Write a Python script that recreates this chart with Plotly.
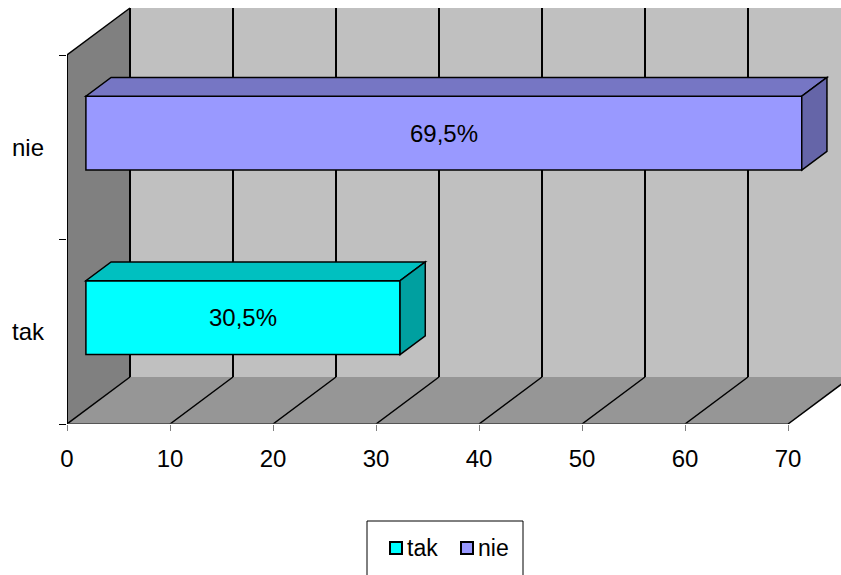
import plotly.graph_objects as go

# ---- data ----
categories = ["tak", "nie"]
values = [30.5, 69.5]
labels = ["30,5%", "69,5%"]
x_ticks = [0, 10, 20, 30, 40, 50, 60, 70]
x_max = 70

# ---- styles ----
front_colors = ["#00FFFF", "#9999FF"]
top_colors = ["#00C0C0", "#7676C4"]
side_colors = ["#00A0A0", "#6565A8"]
FONT = "Liberation Sans, Arial, sans-serif"
FS = 24

W, H = 841, 575
ML, MB = 67, 151
PLOT_W, PLOT_H = W - ML, H - MB
PX_PER_X = 10.3
PX_PER_CAT = 184.5
X_RANGE = [0, PLOT_W / PX_PER_X]
Y_RANGE = [0, PLOT_H / PX_PER_CAT]
DX = 63 / PX_PER_X     # depth offset in x units
DY = 47 / PX_PER_CAT   # depth offset in y units
D1, D2 = 0.3, 0.7      # bar depth span
HALF = 0.2             # half bar thickness (category units)


def P(x, y, d):
    return (x + d * DX, y + d * DY)


def path(points):
    return "M " + " L ".join(f"{x:.4f},{y:.4f}" for x, y in points) + " Z"


shapes = []


def poly(points, fill, lw=0, lc="black"):
    shapes.append(dict(type="path", xref="x", yref="y", path=path(points),
                       fillcolor=fill, line=dict(width=lw, color=lc), layer="above"))


def seg(p0, p1, color="black", width=1.5):
    shapes.append(dict(type="line", xref="x", yref="y", x0=p0[0], y0=p0[1],
                       x1=p1[0], y1=p1[1], line=dict(color=color, width=width), layer="above"))


n_cat = len(categories)
# back wall
poly([P(0, 0, 1), P(x_max, 0, 1), P(x_max, n_cat, 1), P(0, n_cat, 1)], "#C0C0C0")
# left wall
poly([P(0, 0, 0), P(0, 0, 1), P(0, n_cat, 1), P(0, n_cat, 0)], "#808080")
# floor
poly([P(0, 0, 0), P(x_max, 0, 0), P(x_max, 0, 1), P(0, 0, 1)], "#969696")

# gridlines on back wall and floor
for t in x_ticks:
    seg(P(t, 0, 1), P(t, n_cat, 1), "black", 2)
    seg(P(t, 0, 0), P(t, 0, 1), "black", 1.5)
# left wall top edge
seg(P(0, n_cat, 0), P(0, n_cat, 1), "black", 1.5)
# front axis lines
seg(P(0, 0, 0), P(x_max, 0, 0), "#404040", 1.5)
seg(P(0, 0, 0), P(0, n_cat, 0), "black", 2)

# bars
annotations = []
for i, (cat, v) in enumerate(zip(categories, values)):
    c = i + 0.5
    lo, hi = c - HALF, c + HALF
    poly([P(0, lo, D1), P(v, lo, D1), P(v, hi, D1), P(0, hi, D1)], front_colors[i], 1.5)
    poly([P(0, hi, D1), P(v, hi, D1), P(v, hi, D2), P(0, hi, D2)], top_colors[i], 1.5)
    poly([P(v, lo, D1), P(v, lo, D2), P(v, hi, D2), P(v, hi, D1)], side_colors[i], 1.5)
    lx, ly = P(v / 2, c, D1)
    annotations.append(dict(x=lx, y=ly, xref="x", yref="y", text=labels[i], showarrow=False,
                            font=dict(family=FONT, size=FS, color="black")))


# ---- legend box (pixel layout converted to paper coords) ----
def px2paper(px, py):
    return ((px - ML) / PLOT_W, (PLOT_H - py) / PLOT_H)


bx0, by0 = px2paper(367, 521)
bx1, by1 = px2paper(523, 600)
shapes.append(dict(type="rect", xref="paper", yref="paper", x0=bx0, y0=by0, x1=bx1, y1=by1,
                   fillcolor="white", line=dict(color="black", width=1), layer="above"))
leg_x = [390, 461]
for i, cat in enumerate(categories):
    sx0, sy0 = px2paper(leg_x[i], 542)
    sx1, sy1 = px2paper(leg_x[i] + 12, 554)
    shapes.append(dict(type="rect", xref="paper", yref="paper", x0=sx0, y0=sy0, x1=sx1, y1=sy1,
                       fillcolor=front_colors[i], line=dict(color="black", width=2), layer="above"))
    tx, ty = px2paper(leg_x[i] + 15, 548)
    annotations.append(dict(x=tx, y=ty, xref="paper", yref="paper", text=cat, showarrow=False,
                            xanchor="left", yanchor="middle",
                            font=dict(family=FONT, size=FS - 1, color="black")))

fig = go.Figure()
fig.add_trace(go.Scatter(x=[None], y=[None], showlegend=False, hoverinfo="skip"))

fig.update_layout(
    width=W, height=H,
    margin=dict(l=ML, r=0, t=0, b=MB, pad=0),
    paper_bgcolor="white", plot_bgcolor="white",
    showlegend=False,
    shapes=shapes,
    annotations=annotations,
    font=dict(family=FONT, size=FS, color="black"),
    xaxis=dict(range=X_RANGE, tickvals=x_ticks, ticktext=[str(t) for t in x_ticks],
               showgrid=False, zeroline=False, showline=False,
               ticks="outside", ticklen=6, tickcolor="#808080", tickwidth=1,
               ticklabelstandoff=7,
               tickfont=dict(family=FONT, size=FS, color="black"),
               fixedrange=True, automargin=False),
    yaxis=dict(range=Y_RANGE, tickvals=[i + 0.5 for i in range(n_cat)], ticktext=categories,
               showgrid=False, zeroline=False, showline=False, ticks="",
               ticklabelstandoff=22,
               minor=dict(tickvals=list(range(n_cat + 1)), ticks="outside", ticklen=7,
                          tickcolor="black", tickwidth=1),
               tickfont=dict(family=FONT, size=FS, color="black"),
               fixedrange=True, automargin=False),
)

fig.write_html("out.html")
